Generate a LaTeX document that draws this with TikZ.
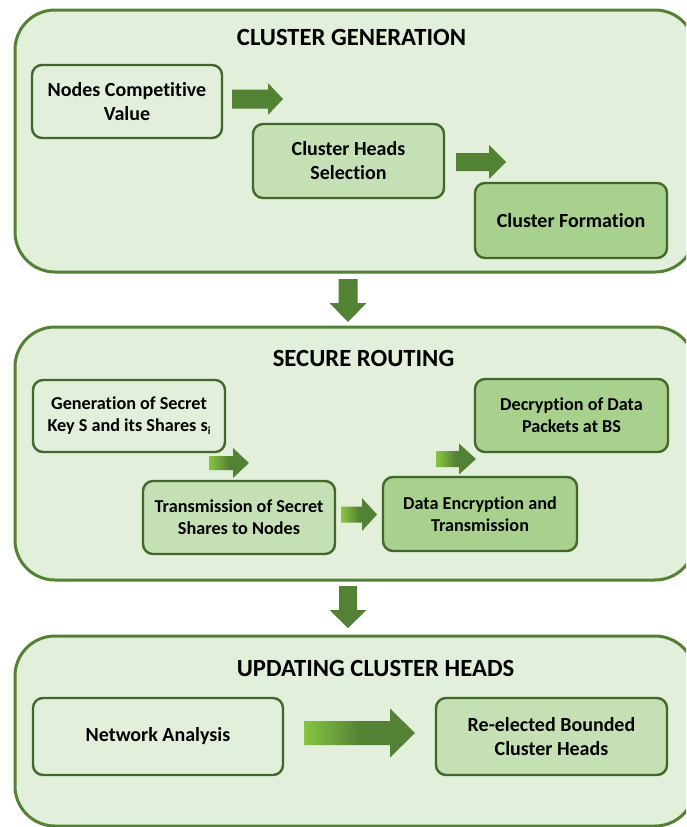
\documentclass[tikz,border=0pt]{standalone}
\usepackage{fontspec}
\setmainfont{Carlito}[Ligatures=NoCommon]
\definecolor{bgfill}{HTML}{E2EFDA}
\definecolor{bord}{HTML}{548235}
\definecolor{ibord}{HTML}{41672A}
\definecolor{midfill}{HTML}{C5E0B4}
\definecolor{darkfill}{HTML}{A9D18E}
\definecolor{arrdark}{HTML}{548235}
\definecolor{arrlight}{HTML}{88C540}
\tikzset{
  panel/.style={draw=bord, line width=3pt, fill=bgfill, rounded corners=40pt, inner sep=0pt},
  box/.style={draw=ibord, line width=2.4pt, rounded corners=10pt, align=center,
    font=\fontsize{20}{24}\selectfont\bfseries, inner sep=0pt},
  smalltext/.style={font=\fontsize{18.2}{22}\selectfont\bfseries},
  lightbox/.style={box, fill=bgfill},
  midbox/.style={box, fill=midfill},
  darkbox/.style={box, fill=darkfill},
  paneltitle/.style={font=\fontsize{24.7}{28}\selectfont\bfseries},
  solidarrow/.style={fill=arrdark},
  gradarrow/.style={left color=arrlight, right color=arrdark, middle color=arrdark}
}
% #1 style, #2 tail x, #3 head base x, #4 tip x, #5 centre y, #6 shaft half, #7 head half
\newcommand\blockharrow[7]{%
  \path[#1] ({#2},{#5-#6}) -- ({#3},{#5-#6}) -- ({#3},{#5-#7}) -- ({#4},{#5})
    -- ({#3},{#5+#7}) -- ({#3},{#5+#6}) -- ({#2},{#5+#6}) -- cycle;}
% #1 style, #2 tail y, #3 head base y, #4 tip y, #5 centre x, #6 shaft half, #7 head half
\newcommand\blockvarrow[7]{%
  \path[#1] ({#5-#6},{#2}) -- ({#5-#6},{#3}) -- ({#5-#7},{#3}) -- ({#5},{#4})
    -- ({#5+#7},{#3}) -- ({#5+#6},{#3}) -- ({#5+#6},{#2}) -- cycle;}
\begin{document}
\begin{tikzpicture}[x=1pt, y=-1pt]
\useasboundingbox (0,0) rectangle (686,827);
\clip (0,0) rectangle (686,827);
\fill[white] (0,0) rectangle (686,827);

% panels
\node[panel, minimum width=680pt, minimum height=262pt] (p1) at (355,141) {};
\node[panel, minimum width=680pt, minimum height=253pt] (p2) at (355,453.5) {};
\node[panel, minimum width=680pt, minimum height=190pt] (p3) at (355,731) {};

% titles
\node[paneltitle] (t1) at (351.5,37) {CLUSTER GENERATION};
\node[paneltitle] (t2) at (363.5,358) {SECURE ROUTING};
\node[paneltitle] (t3) at (375.5,668) {UPDATING CLUSTER HEADS};

% panel 1
\node[lightbox, minimum width=190pt, minimum height=73pt] (ncv) at (127,101.5) {Nodes Competitive\\Value};
\node[midbox, minimum width=191pt, minimum height=74pt] (chs) at (348.5,161) {Cluster Heads\\Selection};
\node[darkbox, minimum width=192pt, minimum height=75pt] (cf) at (571,220.5) {Cluster Formation};

% panel 2
\node[lightbox, smalltext, minimum width=192pt, minimum height=72pt] (gen) at (129,416) {Generation of Secret\\Key S and its Shares s{\fontsize{11}{11}\selectfont\raisebox{-3pt}{i}}};
\node[midbox, smalltext, minimum width=192pt, minimum height=73pt] (trans) at (239,517.5) {Transmission of Secret\\Shares to Nodes};
\node[darkbox, smalltext, minimum width=194pt, minimum height=74pt] (enc) at (480,514) {Data Encryption and\\Transmission};
\node[darkbox, smalltext, minimum width=193pt, minimum height=73pt] (dec) at (571.5,415.5) {Decryption of Data\\Packets at BS};

% panel 3
\node[lightbox, minimum width=250pt, minimum height=77pt] (net) at (158,736.5) {Network Analysis};
\node[midbox, minimum width=231pt, minimum height=77pt] (re) at (551.5,736.5) {Re-elected Bounded\\Cluster Heads};

% block arrows
\blockharrow{solidarrow}{232}{268}{283}{99}{9.5}{16}
\blockharrow{solidarrow}{456}{489}{506}{162}{9}{17}
\blockharrow{gradarrow}{209}{233}{249}{463}{7}{15}
\blockharrow{gradarrow}{341}{362}{377}{514.5}{8}{16.5}
\blockharrow{gradarrow}{436}{459}{476}{459}{8}{15.5}
\blockharrow{gradarrow}{304}{390}{415}{733}{12}{24.5}
\blockvarrow{solidarrow}{279}{303}{322}{348}{9.5}{18.5}
\blockvarrow{solidarrow}{586}{610}{628}{348}{9}{18.5}
\end{tikzpicture}
\end{document}
